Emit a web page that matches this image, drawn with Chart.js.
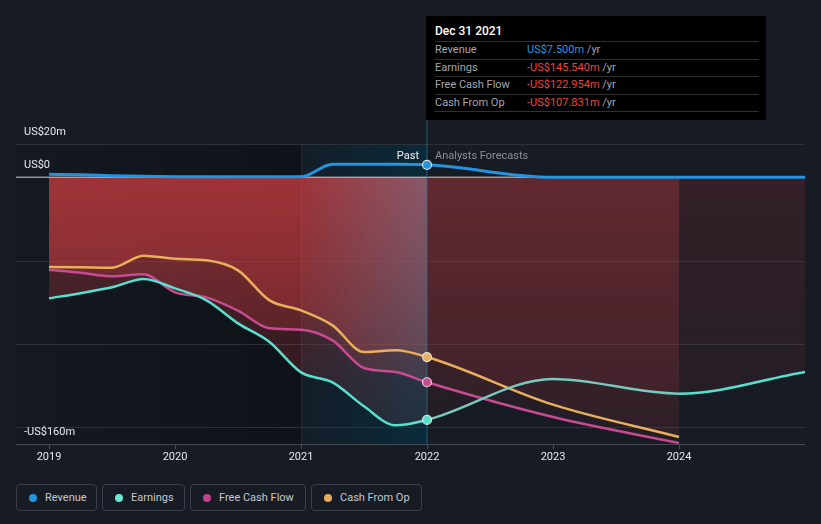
<!DOCTYPE html>
<html>
<head>
<meta charset="utf-8">
<script src="https://cdn.jsdelivr.net/npm/chart.js@4.4.0/dist/chart.umd.min.js"></script>
<style>
  html, body { margin: 0; padding: 0; background: #161b24; width: 821px; height: 524px; overflow: hidden; font-family: Roboto, "Noto Sans", sans-serif; }
  #wrap { position: relative; width: 821px; height: 470px; }
  #chart { position: absolute; left: 0; top: 0; }
  #tip { position: absolute; left: 426px; top: 16px; width: 340px; height: 104px; background: #000; font-size: 11px; color: #a3a7ae; }
  #tip .title { position: absolute; left: 9px; top: 8px; line-height: 14px; font-size: 12px; font-weight: 500; color: #fff; }
  #tip .row { position: absolute; left: 9px; width: 324px; height: 17.6px; border-top: 1px solid #303030; line-height: 15px; box-sizing: border-box; }
  #tip .row.last { border-bottom: 1px solid #303030; height: 18.6px; }
  #tip .val { position: absolute; left: 92px; top: 0; }
  #tip .blue { color: #2d96e0; }
  #tip .red { color: #ec4640; }
  #legend { position: absolute; left: 16px; top: 484px; display: flex; gap: 5px; }
  .item { display: inline-flex; align-items: center; height: 27px; box-sizing: border-box; padding: 0 0 0 12px; border: 1px solid #3a3f49; border-radius: 4px; font-size: 11px; color: #c5c8ce; gap: 8px; white-space: nowrap; overflow: hidden; }
  .dot { width: 8px; height: 8px; border-radius: 50%; flex: none; }
</style>
</head>
<body>
<div id="wrap">
  <canvas id="chart" width="821" height="470"></canvas>
  <div id="tip">
    <div class="title">Dec 31 2021</div>
    <div class="row" style="top:25px">Revenue<span class="val blue">US$7.500m <span style="color:#a3a7ae">/yr</span></span></div>
    <div class="row" style="top:42.6px">Earnings<span class="val red">-US$145.540m <span style="color:#a3a7ae">/yr</span></span></div>
    <div class="row" style="top:60.2px">Free Cash Flow<span class="val red">-US$122.954m <span style="color:#a3a7ae">/yr</span></span></div>
    <div class="row last" style="top:77.8px">Cash From Op<span class="val red">-US$107.831m <span style="color:#a3a7ae">/yr</span></span></div>
  </div>
</div>
<div id="legend"></div>
<script>
// dates as decimal years, values in US$ millions
const pastDates = [2019, 2019.25, 2019.5, 2019.75, 2020, 2020.25, 2020.5, 2020.75, 2021, 2021.25, 2021.5, 2021.75, 2022];
const forecastDates = [2023, 2024, 2025];

const revenuePast = [1.8, 1.5, 1.0, 0.6, 0.4, 0.3, 0.3, 0.3, 0.3, 7.8, 7.8, 7.8, 7.5];
const revenueForecast = [0, 0, 0];
const earningsPast = [-72.6, -69.5, -66, -61, -66.6, -73.8, -87.6, -98.8, -117, -123, -137.4, -148.8, -145.54];
const earningsForecast = [-121, -129.8, -116.8];
const fcfPast = [-55.4, -57.2, -59.4, -58.2, -69, -72, -80, -90.6, -91.4, -97.8, -114.4, -116.8, -122.954];
const fcfForecast = [-143.8, -159.4];
const cfoPast = [-53.8, -54, -54.2, -47, -48.9, -49.8, -55.8, -73.8, -79.8, -88.8, -104.8, -103.8, -107.831];
const cfoForecast = [-136.4, -155.8];

const seriesNames = ["Revenue", "Earnings", "Free Cash Flow", "Cash From Op"];
const seriesColors = ["#2394df", "#58e0cf", "#c84b91", "#e9b05c"];
const legendDots = ["#2394df", "#6fe6d5", "#c2448a", "#e6ac61"];
const legendWidths = [81, 83, 116, 111];

const yearTicks = [2019, 2020, 2021, 2022, 2023, 2024];
const yLabelValues = [20, 0, -160];
const yLabels = ["US$20m", "US$0", "-US$160m"];
const gridValues = [20, -50, -100, -150];
const nowYear = 2022;
const highlightStart = 2021;

const toPoints = (dates, vals) => vals.map((v, i) => ({ x: dates[i], y: v }));

// red area fill: bright for the past, dim for forecasts, fading downwards
let fillCache = null;
function redFill(context) {
  const chart = context.chart;
  const area = chart.chartArea;
  if (!area) return "rgba(200,60,64,0.3)";
  if (fillCache) return fillCache;
  const xs = chart.scales.x, ys = chart.scales.y;
  const off = document.createElement("canvas");
  off.width = chart.width; off.height = chart.height;
  const c = off.getContext("2d");
  const top = ys.getPixelForValue(0), bot = ys.getPixelForValue(-160);
  for (let px = Math.floor(area.left); px < Math.ceil(area.right); px++) {
    const yr = xs.getValueForPixel(px + 0.5);
    let col = [200, 60, 64], a0 = 0.39, a1 = 0.12;
    if (yr >= highlightStart && yr < nowYear) {
      const t = (yr - highlightStart) / (nowYear - highlightStart);
      col = [200 - 25 * t, 60 + 42 * t, 64 + 54 * t].map(Math.round);
    } else if (yr >= nowYear) {
      a0 = 0.17; a1 = 0.07;
    }
    const g = c.createLinearGradient(0, top, 0, bot);
    g.addColorStop(0, `rgba(${col.join(",")},${a0})`);
    g.addColorStop(1, `rgba(${col.join(",")},${a1})`);
    c.fillStyle = g;
    c.fillRect(px, area.top, 1, area.bottom - area.top);
  }
  fillCache = chart.ctx.createPattern(off, "no-repeat");
  return fillCache;
}

const nowPoint = (ctx) => (ctx.raw && ctx.raw.x === nowYear ? 4.5 : 0);

function series(i, points, fill, extra) {
  return Object.assign({
    label: seriesNames[i],
    data: points,
    borderColor: seriesColors[i],
    borderWidth: 2.5,
    fill: fill ? "origin" : false,
    backgroundColor: fill ? redFill : "transparent",
    pointRadius: nowPoint,
    pointBackgroundColor: seriesColors[i],
    pointBorderColor: "rgba(235,235,235,0.9)",
    pointBorderWidth: 1.2,
    cubicInterpolationMode: "monotone"
  }, extra || {});
}

const datasets = [
  series(0, toPoints(pastDates.concat(forecastDates), revenuePast.concat(revenueForecast)), false, { borderWidth: 3 }),
  series(1, toPoints(pastDates.concat(forecastDates), earningsPast.concat(earningsForecast)), true, {
    segment: { borderColor: (s) => (s.p0.parsed.x >= nowYear && s.p1.parsed.x <= 2024 ? "#78cabe" : undefined) }
  }),
  series(2, toPoints(pastDates.concat(forecastDates.slice(0, 2)), fcfPast.concat(fcfForecast)), true),
  series(3, toPoints(pastDates.concat(forecastDates.slice(0, 2)), cfoPast.concat(cfoForecast)), true)
];

function hline(ctx, x0, x1, y) { ctx.beginPath(); ctx.moveTo(x0, y); ctx.lineTo(x1, y); ctx.stroke(); }
function vline(ctx, x, y0, y1) { ctx.beginPath(); ctx.moveTo(x, y0); ctx.lineTo(x, y1); ctx.stroke(); }

const backdrop = {
  id: "backdrop",
  beforeDraw(chart) {
    const { ctx, chartArea: a, scales: { x, y } } = chart;
    const x21 = x.getPixelForValue(highlightStart), x22 = x.getPixelForValue(nowYear);
    ctx.save();
    // darker past region
    let g = ctx.createLinearGradient(a.left, 0, x21, 0);
    g.addColorStop(0, "rgba(0,0,0,0.06)");
    g.addColorStop(1, "rgba(0,0,0,0.3)");
    ctx.fillStyle = g;
    ctx.fillRect(a.left, a.top, x21 - a.left, a.bottom - a.top);
    // last-year highlight band
    g = ctx.createLinearGradient(x21, 0, x22, 0);
    g.addColorStop(0, "rgba(0,55,75,0.12)");
    g.addColorStop(1, "rgba(0,55,75,0.55)");
    ctx.fillStyle = g;
    ctx.fillRect(x21, a.top, x22 - x21, a.bottom - a.top);
    // grid
    ctx.lineWidth = 1;
    ctx.strokeStyle = "#2c313a";
    gridValues.forEach(v => hline(ctx, a.left, a.right, Math.round(y.getPixelForValue(v)) + 0.5));
    // bottom axis + ticks
    ctx.strokeStyle = "#454a53";
    hline(ctx, a.left, a.right, Math.round(a.bottom) + 0.5);
    yearTicks.forEach(t => vline(ctx, Math.round(x.getPixelForValue(t)) + 0.5, a.bottom, a.bottom + 5));
    ctx.restore();
  },
  beforeDatasetsDraw(chart) {
    const { ctx, chartArea: a, scales: { x, y } } = chart;
    ctx.save();
    ctx.lineWidth = 1;
    ctx.strokeStyle = "rgba(255,255,255,0.05)";
    vline(ctx, Math.round(x.getPixelForValue(highlightStart)) + 0.5, a.top, a.bottom);
    ctx.lineWidth = 1.5;
    ctx.strokeStyle = "rgba(190,190,195,0.75)";
    hline(ctx, a.left, a.right, y.getPixelForValue(0));
    ctx.strokeStyle = "rgba(50,110,135,0.55)";
    vline(ctx, x.getPixelForValue(nowYear), 16, a.bottom);
    ctx.restore();
  },
  afterDraw(chart) {
    const { ctx, chartArea: a, scales: { x, y } } = chart;
    ctx.save();
    ctx.font = "11px Roboto";
    ctx.textBaseline = "middle";
    ctx.fillStyle = "#e8e8ea";
    ctx.textAlign = "left";
    yLabelValues.forEach((v, i) => ctx.fillText(yLabels[i], 24, y.getPixelForValue(v) - 12));
    ctx.textAlign = "center";
    yearTicks.forEach(t => ctx.fillText(String(t), x.getPixelForValue(t), a.bottom + 13));
    const xn = x.getPixelForValue(nowYear);
    ctx.textAlign = "right";
    ctx.fillStyle = "#f2f2f2";
    ctx.fillText("Past", xn - 8, 156);
    ctx.textAlign = "left";
    ctx.fillStyle = "#8b8f97";
    ctx.fillText("Analysts Forecasts", xn + 8, 156);
    ctx.restore();
  }
};

new Chart(document.getElementById("chart"), {
  type: "line",
  data: { datasets },
  options: {
    responsive: false,
    animation: false,
    events: [],
    layout: { padding: { left: 16, right: 16, top: 144, bottom: 26 } },
    scales: {
      x: { type: "linear", min: 2018.738, max: 2025, display: false },
      y: { min: -160, max: 20, display: false }
    },
    plugins: {
      legend: { display: false },
      tooltip: { enabled: false },
      filler: { drawTime: "beforeDatasetsDraw" }
    }
  },
  plugins: [backdrop]
});

document.getElementById("legend").innerHTML = seriesNames.map((n, i) =>
  `<div class="item" style="width:${legendWidths[i]}px"><span class="dot" style="background:${legendDots[i]}"></span>${n}</div>`).join("");
</script>
</body>
</html>
